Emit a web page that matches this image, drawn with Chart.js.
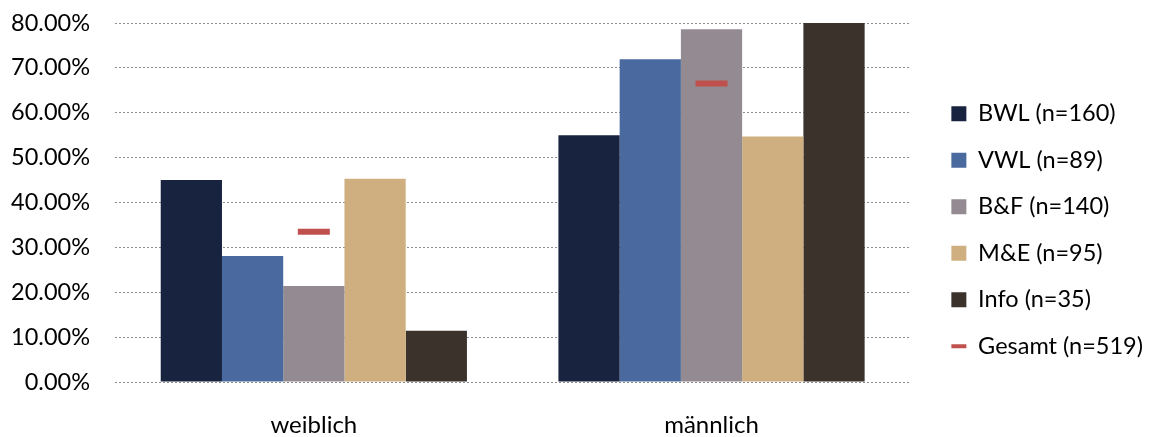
<!DOCTYPE html>
<html>
<head>
<meta charset="utf-8">
<script src="https://cdn.jsdelivr.net/npm/chart.js@4"></script>
<style>
  html, body { margin: 0; padding: 0; background: #fff; }
  #wrap { width: 1155px; height: 437px; }
</style>
</head>
<body>
<div id="wrap"><canvas id="chart"></canvas></div>
<script>
// categories and series (percent values)
const categories = ["weiblich", "männlich"];
const seriesNames = ["BWL (n=160)", "VWL (n=89)", "B&F (n=140)", "M&E (n=95)", "Info (n=35)"];
const bwl = [45.0, 55.0];
const vwl = [28.1, 71.9];
const bf = [21.4, 78.6];
const me = [45.3, 54.7];
const info = [11.4, 88.6];
const gesamt = [33.5, 66.5];
const gesamtName = "Gesamt (n=519)";

const barColors = ["#17233f", "#4a6a9f", "#938b91", "#cfaf80", "#3b322c"];
const font = "Lato, 'Open Sans', sans-serif";

const barData = [bwl, vwl, bf, me, info];

const datasets = barData.map((values, i) => ({
  type: "bar",
  label: seriesNames[i],
  data: values,
  backgroundColor: barColors[i],
  borderWidth: 0,
  pointStyle: "rect",
  categoryPercentage: 0.77,
  barPercentage: 1.0,
  order: 2
}));

// Gesamt shown as a short red dash
datasets.push({
  type: "line",
  label: gesamtName,
  data: gesamt,
  showLine: false,
  pointStyle: "line",
  pointRadius: 16,
  pointBorderWidth: 6,
  borderColor: "#c0504d",
  backgroundColor: "#c0504d",
  order: 1
});

new Chart(document.getElementById("chart"), {
  data: { labels: categories, datasets: datasets },
  options: {
    responsive: true,
    maintainAspectRatio: false,
    animation: false,
    layout: { autoPadding: false, padding: { top: 23, left: 0, right: 2, bottom: 0 } },
    plugins: {
      tooltip: { enabled: false },
      legend: {
        position: "right",
        labels: {
          usePointStyle: true,
          boxHeight: 15,
          boxWidth: 15,
          pointStyleWidth: 15,
          padding: 23,
          color: "#000",
          font: { family: font, size: 23.5 },
          sort: (a, b) => a.datasetIndex - b.datasetIndex,
          generateLabels: chart => {
            const items = Chart.defaults.plugins.legend.labels.generateLabels(chart);
            items.forEach(it => { if (it.pointStyle === "line") it.lineWidth = 4; });
            return items;
          }
        }
      }
    },
    scales: {
      x: {
        grid: { display: false, drawTicks: false },
        border: { display: false },
        ticks: { color: "#000", padding: 29, font: { family: font, size: 24 } },
        afterFit: s => { s.height = 55; s.paddingLeft = 0; s.paddingRight = 0; }
      },
      y: {
        min: 0,
        max: 80,
        ticks: {
          stepSize: 10,
          padding: 25,
          color: "#000",
          font: { family: font, size: 23.5 },
          callback: v => v.toFixed(2) + "%"
        },
        grid: { color: "#8c8c8c", lineWidth: 1, drawTicks: false },
        border: { display: false, dash: [2, 2] },
        afterFit: s => { s.width = 115; s.paddingTop = 0; s.paddingBottom = 0; }
      },
      // invisible spacer between plot and legend
      gap: {
        type: "linear",
        position: "right",
        display: false,
        afterFit: s => { s.width = 18; }
      }
    }
  }
});
</script>
</body>
</html>
